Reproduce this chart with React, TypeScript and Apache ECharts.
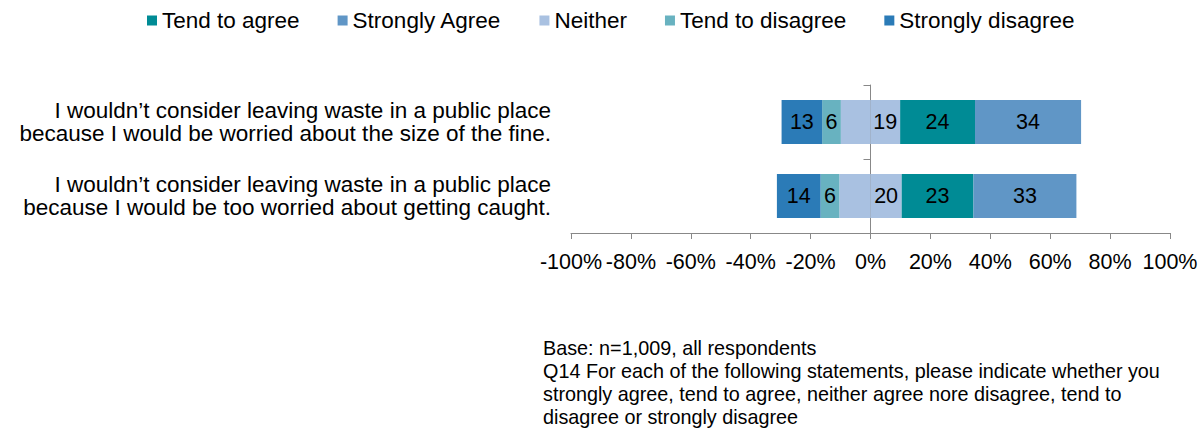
import React, { useEffect, useRef } from "react";
import * as echarts from "echarts";

const categories = [
  "I wouldn’t consider leaving waste in a public place\nbecause I would be worried about the size of the fine.",
  "I wouldn’t consider leaving waste in a public place\nbecause I would be too worried about getting caught.",
];
const stronglyDisagree = [13, 14];
const tendToDisagree = [6, 6];
const neither = [19, 20];
const tendToAgree = [24, 23];
const stronglyAgree = [34, 33];

const legendNames = ["Tend to agree", "Strongly Agree", "Neither", "Tend to disagree", "Strongly disagree"];
const footnote = [
  "Base: n=1,009, all respondents",
  "Q14 For each of the following statements, please indicate whether you",
  "strongly agree, tend to agree, neither agree nore disagree, tend to",
  "disagree or strongly disagree",
];

const COLORS = {
  tendAgree: "#008B95",
  strongAgree: "#6096C6",
  neither: "#A9C1E1",
  tendDisagree: "#68B2C0",
  strongDisagree: "#2B7BB7",
};

const FONT = "'Liberation Sans', Arial, sans-serif";

export default function App() {
  const ref = useRef<HTMLDivElement>(null);
  useEffect(() => {
    if (!ref.current) return;
    const chart = echarts.init(ref.current, undefined, { renderer: "svg" });
    const totals = categories.map(
      (_, i) => stronglyDisagree[i] + tendToDisagree[i] + neither[i] + tendToAgree[i] + stronglyAgree[i]
    );
    const norm = (arr: number[]) => arr.map((v, i) => (v / totals[i]) * 100);
    const labelFrom = (arr: number[]) => ({
      show: true,
      position: "inside" as const,
      color: "#000",
      fontSize: 21.5,
      fontFamily: FONT,
      formatter: (p: any) => String(arr[p.dataIndex]),
    });
    const base = { type: "bar" as const, stack: "total", barWidth: 44, yAxisIndex: 0 };
    chart.setOption({
      animation: false,
      textStyle: { fontFamily: FONT },
      legend: {
        data: legendNames,
        top: 4,
        left: 142,
        icon: "rect",
        itemWidth: 10,
        itemHeight: 10,
        itemGap: 38,
        textStyle: { fontSize: 22.5, color: "#000", fontFamily: FONT },
      },
      grid: { left: 571, right: 34, top: 85, bottom: 197 },
      xAxis: {
        type: "value",
        min: -100,
        max: 100,
        interval: 20,
        splitLine: { show: false },
        axisLine: { show: true, lineStyle: { color: "#888" } },
        axisTick: { show: true, length: 6, lineStyle: { color: "#888" } },
        axisLabel: {
          fontSize: 21.5,
          color: "#000",
          fontFamily: FONT,
          margin: 18,
          formatter: (v: number) => `${v}%`,
        },
      },
      yAxis: [
        {
          type: "category",
          data: categories,
          inverse: true,
          axisLine: { show: true, onZero: true, lineStyle: { color: "#888" } },
          axisTick: { show: true, length: 7, lineStyle: { color: "#888" } },
          axisLabel: { show: false },
        },
        {
          type: "category",
          data: categories,
          inverse: true,
          position: "left",
          axisLine: { show: false, onZero: false },
          axisTick: { show: false },
          axisLabel: {
            show: true,
            margin: 20,
            fontSize: 22.5,
            lineHeight: 23.5,
            color: "#000",
            fontFamily: FONT,
            align: "right",
          },
        },
      ],
      series: [
        {
          ...base,
          name: "Neither",
          data: norm(neither).map((v) => -v / 2),
          itemStyle: { color: COLORS.neither },
          label: { show: false },
        },
        {
          ...base,
          name: "Tend to disagree",
          data: norm(tendToDisagree).map((v) => -v),
          itemStyle: { color: COLORS.tendDisagree },
          label: labelFrom(tendToDisagree),
        },
        {
          ...base,
          name: "Strongly disagree",
          data: norm(stronglyDisagree).map((v) => -v),
          itemStyle: { color: COLORS.strongDisagree },
          label: labelFrom(stronglyDisagree),
        },
        {
          ...base,
          name: "Neither",
          data: norm(neither).map((v) => v / 2),
          itemStyle: { color: COLORS.neither },
          label: labelFrom(neither),
        },
        {
          ...base,
          name: "Tend to agree",
          data: norm(tendToAgree),
          itemStyle: { color: COLORS.tendAgree },
          label: labelFrom(tendToAgree),
        },
        {
          ...base,
          name: "Strongly Agree",
          data: norm(stronglyAgree),
          itemStyle: { color: COLORS.strongAgree },
          label: labelFrom(stronglyAgree),
        },
      ],
      graphic: [
        {
          type: "text",
          left: 543,
          top: 336,
          style: {
            text: footnote.join("\n"),
            fontSize: 19.8,
            lineHeight: 23,
            fill: "#000",
            fontFamily: FONT,
          },
        },
      ],
    });
    return () => chart.dispose();
  }, []);
  return (
    <div
      ref={ref}
      style={{ position: "fixed", left: 0, top: 0, width: 1204, height: 430, background: "#fff" }}
    />
  );
}
